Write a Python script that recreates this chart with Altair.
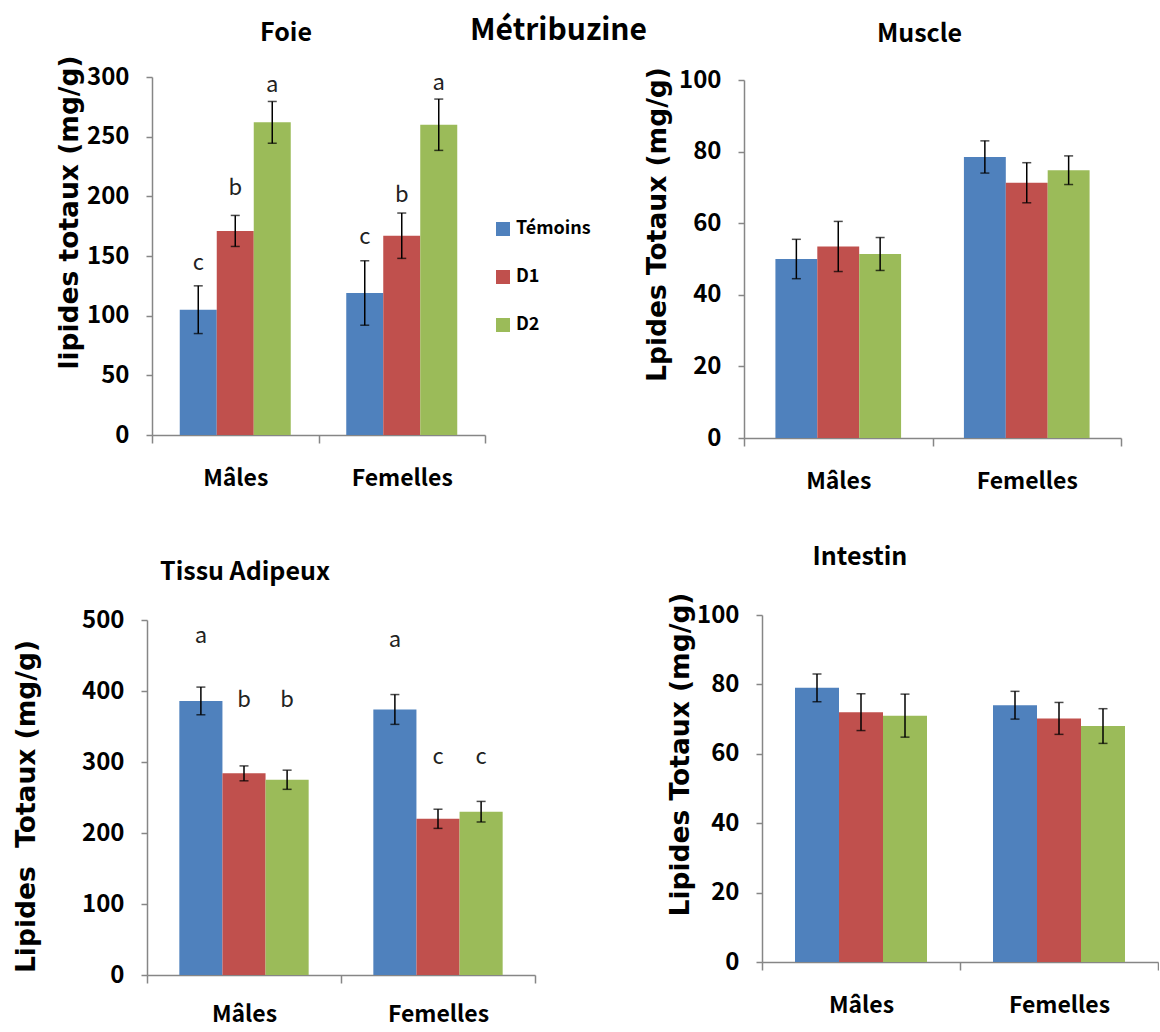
import altair as alt
import pandas as pd

# ---------------- data ----------------
sexes = ["Mâles", "Femelles"]
groups = ["Témoins", "D1", "D2"]
colors = ["#4F81BD", "#C0504D", "#9BBB59"]

# order: Mâles (Témoins, D1, D2), Femelles (Témoins, D1, D2)
foie_mean = [105, 171, 262, 119, 167, 260]
foie_err = [20, 13, 17.5, 27, 19, 21.5]
foie_letters = ["c", "b", "a", "c", "b", "a"]
foie_letter_y = [144, 207, 293, 166, 201, 295]

muscle_mean = [50, 53.5, 51.4, 78.5, 71.3, 74.8]
muscle_err = [5.5, 7, 4.6, 4.5, 5.6, 4]

tissu_mean = [386, 284, 275, 374, 220, 230]
tissu_err = [19.5, 10.5, 13.5, 21, 13.5, 14.5]
tissu_letters = ["a", "b", "b", "a", "c", "c"]
tissu_letter_y = [478, 388, 388, 472, 307, 307]

intestin_mean = [79, 72, 71, 74, 70.2, 68]
intestin_err = [4, 5.3, 6.2, 4, 4.6, 5]

NARROW = "Noto Sans CJK SC"
WIDE = "DejaVu Sans"
GRAY = "#868686"


def panel(title, means, errs, ymax, ystep, ytitle, width, height,
          xrange, yrange, axis_offset, title_x, title_y, title_dx, title_offset,
          xlabel_pad=24, letters=None, letter_y=None, legend=False):
    df = pd.DataFrame({
        "sexe": [s for s in sexes for g in groups],
        "groupe": [g for s in sexes for g in groups],
        "moy": means,
        "err": errs,
    })
    df["lo"] = df["moy"] - df["err"]
    df["hi"] = df["moy"] + df["err"]
    if letters:
        df["lettre"] = letters
        df["ly"] = letter_y

    x = alt.X("sexe:N", sort=sexes,
              scale=alt.Scale(range=xrange, paddingInner=0, paddingOuter=0),
              axis=alt.Axis(title=None, tickBand="extent", tickSize=8,
                            tickColor=GRAY, tickWidth=1.5, domainColor=GRAY,
                            domainWidth=1.5, labelFont=NARROW, labelFontSize=23,
                            labelFontWeight="bold", labelColor="black",
                            labelPadding=xlabel_pad, labelAngle=0))
    xo = alt.XOffset("groupe:N", sort=groups,
                     scale=alt.Scale(paddingInner=0, paddingOuter=0.75))
    ysc = dict(domain=[0, ymax], nice=False, zero=True)
    if yrange is not None:
        ysc["range"] = yrange
    y = alt.Y("moy:Q", scale=alt.Scale(**ysc),
              axis=alt.Axis(values=list(range(0, ymax + 1, ystep)), title=ytitle,
                            titleFont=WIDE, titleFontSize=26.5, titleFontWeight="bold",
                            titleColor="black", titleAngle=270, titleX=title_x,
                            titleY=title_y, titleAlign="center",
                            titleBaseline="middle", labelFont=NARROW,
                            labelFontSize=24, labelFontWeight="bold",
                            labelColor="black", labelPadding=17, tickSize=6,
                            tickColor=GRAY, tickWidth=1.5, domainColor=GRAY,
                            domainWidth=1.5, grid=False, offset=axis_offset))
    if legend:
        leg = alt.Legend(title=None, orient="none", legendX=347, legendY=143,
                         symbolType="square", symbolSize=196,
                         symbolStrokeWidth=0, labelFont=NARROW, labelFontSize=18,
                         labelFontWeight="bold", labelColor="black",
                         rowPadding=30, labelOffset=4, padding=0)
    else:
        leg = None
    color = alt.Color("groupe:N", sort=groups,
                      scale=alt.Scale(domain=groups, range=colors), legend=leg)

    base = alt.Chart(df)
    bars = base.mark_bar().encode(x=x, xOffset=xo, y=y, color=color)
    rule = base.mark_rule(color="black", strokeWidth=1.5).encode(
        x=x, xOffset=xo, y="lo:Q", y2="hi:Q")
    cap_lo = base.mark_tick(color="black", thickness=1.5, size=9,
                            orient="horizontal").encode(x=x, xOffset=xo, y="lo:Q")
    cap_hi = base.mark_tick(color="black", thickness=1.5, size=9,
                            orient="horizontal").encode(x=x, xOffset=xo, y="hi:Q")
    layers = [bars, rule, cap_lo, cap_hi]
    if letters:
        txt = base.mark_text(font=NARROW, fontSize=22, color="#222222",
                             baseline="middle").encode(
            x=x, xOffset=xo, y="ly:Q", text="lettre:N")
        layers.append(txt)
    return alt.layer(*layers).properties(
        width=width, height=height,
        title=alt.TitleParams(title, anchor="middle", frame="group", dx=title_dx,
                              offset=title_offset, font=NARROW, fontSize=25,
                              fontWeight="bold", color="black"))


p_foie = panel("Foie", foie_mean, foie_err, 300, 50, "lipides totaux (mg/g)",
               338, 358, [5, 338], None, -5, -83, 135, -30, 9,
               letters=foie_letters, letter_y=foie_letter_y, legend=True)
p_muscle = panel("Muscle", muscle_mean, muscle_err, 100, 20, "Lpides Totaux (mg/g)",
                 377, 361, [0, 377], [361, 3], 0, -87, 147, -13, 20)
p_tissu = panel("Tissu Adipeux", tissu_mean, tissu_err, 500, 100,
                "Lipides \u00a0Totaux (mg/g)", 388, 360, [0, 388], [360, 5], 0,
                -121, 191, -96, 23, xlabel_pad=20,
                letters=tissu_letters, letter_y=tissu_letter_y)
p_intestin = panel("Intestin", intestin_mean, intestin_err, 100, 20,
                   "Lipides Totaux (mg/g)", 414, 347, [18, 414], None, -18,
                   -82, 139, -91, 22)

chart = alt.concat(
    p_foie, p_muscle, p_tissu, p_intestin,
    columns=2, spacing={"row": 177, "column": 209}, bounds="flush",
).resolve_scale(
    x="independent", y="independent", color="independent", xOffset="independent"
).resolve_legend(color="independent").properties(
    title=alt.TitleParams("Métribuzine", anchor="start", frame="group", dx=323,
                          offset=-25, font=NARROW, fontSize=30,
                          fontWeight="bold", color="black"),
    padding={"left": 13, "top": 15, "right": 0, "bottom": 3},
).configure_view(stroke=None)

chart.save("out.html", embed_options={"renderer": "svg", "actions": False})
